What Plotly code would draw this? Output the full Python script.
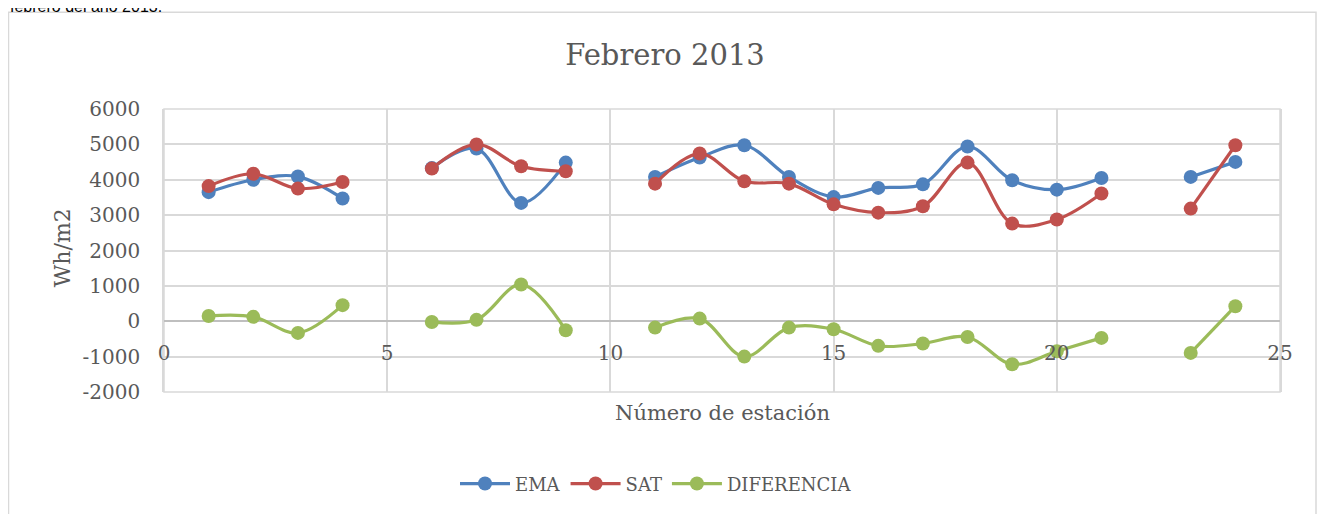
import plotly.graph_objects as go

estaciones = list(range(1, 25))
ema = [3650, 4000, 4090, 3470, None, 4330, 4880, 3345, 4485, None,
       4080, 4630, 4975, 4080, 3510, 3770, 3870, 4940, 3985, 3720,
       4050, None, 4080, 4505]
sat = [3820, 4170, 3750, 3935, None, 4315, 5000, 4380, 4240, None,
       3890, 4740, 3955, 3890, 3305, 3070, 3250, 4485, 2760, 2875,
       3610, None, 3185, 4975]
dif = [150, 125, -330, 455, None, -20, 40, 1040, -255, None,
       -180, 75, -1000, -180, -225, -695, -630, -445, -1215, -850,
       -470, None, -895, 425]

x_ticks = [0, 5, 10, 15, 20, 25]
y_ticks = [-2000, -1000, 0, 1000, 2000, 3000, 4000, 5000, 6000]

OFF = 8  # page body margin
W, H = 1325 - OFF, 514 - OFF
L, R, T, B = 164 - OFF, 1280 - OFF, 108.5 - OFF, 392 - OFF


def px_x(p):
    return (p - OFF - L) / (R - L)


def px_y(p):
    return (B - (p - OFF)) / (B - T)


font_fam = "DejaVu Serif"
grey = "#595959"

fig = go.Figure()
for name, vals, col in [("EMA", ema, "#4F81BD"), ("SAT", sat, "#C0504D"),
                        ("DIFERENCIA", dif, "#9BBB59")]:
    fig.add_trace(go.Scatter(
        x=estaciones, y=vals, name=name, mode="lines+markers",
        line=dict(color=col, width=3.2, shape="spline", smoothing=1.0),
        marker=dict(color=col, size=14),
        connectgaps=False,
    ))

fig.update_layout(
    width=W, height=H,
    margin=dict(l=L, r=W - R, t=T, b=H - B),
    paper_bgcolor="white", plot_bgcolor="white",
    showlegend=True,
    legend=dict(orientation="h", x=px_x(656), xanchor="center", y=px_y(484), yanchor="middle",
                font=dict(family=font_fam, size=18, color=grey),
                itemwidth=50, tracegroupgap=0),
    font=dict(family=font_fam, color=grey),
    title=dict(text="Febrero 2013", x=px_x(665), xref="paper", xanchor="center",
               y=1 - (55 - OFF) / H, yanchor="middle",
               font=dict(family=font_fam, size=29, color=grey)),
)

fig.update_xaxes(
    range=[0, 25], tickvals=x_ticks, ticktext=[str(v) for v in x_ticks],
    showgrid=True, gridcolor="#d9d9d9", gridwidth=1.5,
    zeroline=False, showline=False,
    anchor="free", position=px_y(321),
    ticks="", ticklabelstandoff=18,
    tickfont=dict(family=font_fam, size=20, color=grey),
)
fig.update_yaxes(
    range=[-2000, 6000], tickvals=y_ticks, ticktext=[str(v) for v in y_ticks],
    showgrid=True, gridcolor="#d9d9d9", gridwidth=1.5,
    zeroline=True, zerolinecolor="#bfbfbf", zerolinewidth=2,
    showline=True, linecolor="#d9d9d9", linewidth=1.5, mirror=True,
    ticks="", ticklabelstandoff=18,
    tickfont=dict(family=font_fam, size=20, color=grey),
)

# frame of plot area
fig.add_shape(type="rect", xref="paper", yref="paper", x0=0, x1=1, y0=0, y1=1,
              line=dict(color="#d9d9d9", width=1.5), layer="below")
# outer chart border
fig.add_shape(type="rect", xref="paper", yref="paper",
              x0=px_x(8.5), x1=px_x(1316), y0=px_y(540), y1=px_y(11.5),
              line=dict(color="#d9d9d9", width=1.5), layer="below")

fig.add_annotation(text="Wh/m2", xref="paper", yref="paper", x=px_x(62), y=px_y(248),
                   textangle=-90, showarrow=False, xanchor="center", yanchor="middle",
                   font=dict(family=font_fam, size=22, color=grey))
fig.add_annotation(text="Número de estación", xref="paper", yref="paper",
                   x=px_x(722), y=px_y(413), showarrow=False,
                   xanchor="center", yanchor="middle",
                   font=dict(family=font_fam, size=21, color=grey))
fig.add_annotation(text="febrero del año 2013.", xref="paper", yref="paper",
                   x=px_x(8), y=px_y(6), showarrow=False,
                   xanchor="left", yanchor="middle",
                   font=dict(family="Liberation Sans", size=16, color="black"))

fig.write_html("out.html")
